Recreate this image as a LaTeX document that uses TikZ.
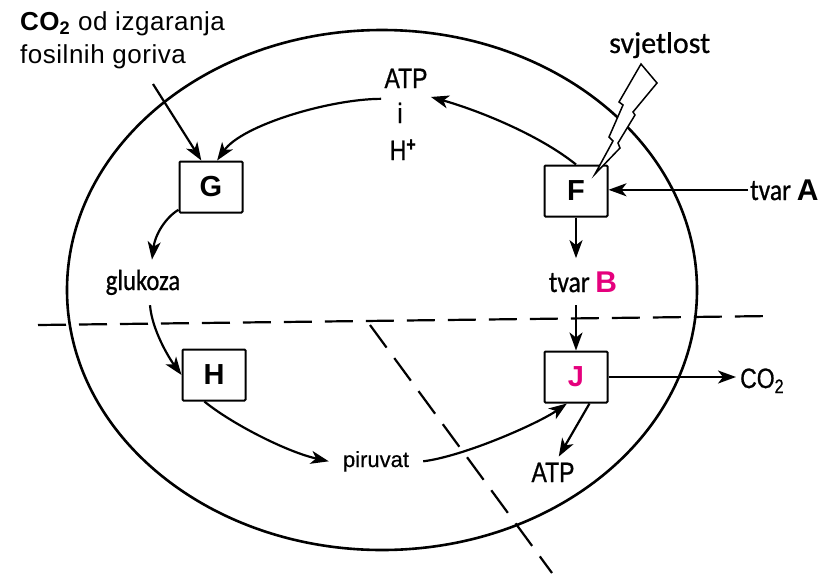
\documentclass[tikz,border=0pt]{standalone}
\usepackage{fontspec}
\setmainfont{Liberation Sans}
\newfontfamily\lblfont[LetterSpace=2]{Liberation Sans}
\newfontfamily\narfont[FakeStretch=0.82,FakeBold=0.8]{Liberation Sans}
\newfontfamily\calfont[FakeBold=0.6]{Carlito}
\newfontfamily\calnfont[FakeStretch=0.85,FakeBold=0.8]{Carlito}
\newfontfamily\pirfont[FakeBold=0.5]{Liberation Sans}
\usetikzlibrary{arrows.meta,fit,calc}
\definecolor{mag}{HTML}{E5007D}
\begin{document}
\begin{tikzpicture}[x=1pt,y=-1pt,
  box/.style={draw,line width=2pt,minimum width=63pt,minimum height=51pt,inner sep=0pt,rounded corners=1pt,font=\fontsize{29}{32}\selectfont\bfseries},
  arr/.style={line width=2.2pt,-{Stealth[length=18pt,width=13pt,inset=5pt]}},
  dashln/.style={line width=2.2pt,dash pattern=on 28pt off 13pt},
  lbl/.style={inner sep=0pt,font=\lblfont\fontsize{26}{30}\selectfont},
  nar/.style={font=\narfont\fontsize{28}{32}\selectfont},
  caln/.style={font=\calnfont\fontsize{30}{34}\selectfont}
]
\useasboundingbox (0,0) rectangle (832,587);
\draw[line width=2.6pt] (382,290) ellipse [x radius=315pt, y radius=260pt];
\draw[dashln] (38,325) -- (772,316);
\draw[dashln] (370,325) -- (552,573);

\node[box] (G) at (211,187) {G};
\node[box] (F) at (576,191) {F};
\node[box] (H) at (214,375) {H};
\node[box,text=mag] (J) at (576,377) {J};

\node[lbl,anchor=base west] (co2a) at (20,30) {\textbf{CO\textsubscript{2}} od izgaranja};
\node[lbl,anchor=base west] (co2b) at (20,63) {fosilnih goriva};
\coordinate (co2s) at (153,84);

\node[anchor=base west,inner sep=0pt,font=\calfont\fontsize{30}{34}\selectfont] (svj) at (609,53) {svjetlost};

\node[nar,anchor=base,inner sep=0pt] (atpA) at (406,88) {ATP};
\node[nar,anchor=base,inner sep=0pt] (atpI) at (400,123) {i};
\node[nar,anchor=base,inner sep=0pt] (atpH) at (403,160) {H\textsuperscript{\bfseries +}};
\node[fit=(atpA)(atpI)(atpH),inner sep=3pt] (atp) {};

\node[caln,anchor=base,inner xsep=2pt,inner ysep=10pt,font=\calnfont\fontsize{29}{34}\selectfont] (gluk) at (143,290) {glukoza};
\node[anchor=base,inner xsep=14pt,inner ysep=0pt,font=\pirfont\fontsize{22}{26}\selectfont] (piru) at (376,467) {piruvat};
\node[caln,anchor=base,inner xsep=0pt,inner ysep=13pt] (tvarB) at (583,292) {tvar {\normalfont\bfseries\color{mag}B}};
\node[caln,anchor=base west,inner sep=2pt] (tvarA) at (748,200) {tvar {\normalfont\bfseries A}};
\node[nar,anchor=base,inner sep=6pt] (atpB) at (553,482) {ATP};
\node[nar,anchor=base west,inner sep=4pt] (co2r) at (736,388) {CO\textsubscript{2}};

\draw[arr] (co2s) -- (G.110);
\draw[arr] (F.north) .. controls (538,134) and (477,110) .. (atp.35);
\draw[arr] (atp.148) .. controls (330,99) and (242,125) .. (G.77);
\draw[arr] (G.215) .. controls (165,218) and (155,235) .. ($(gluk.north)+(9,0)$);
\draw[arr] ($(gluk.south)+(7,0)$) .. controls (152,330) and (169,358) .. (H.west);
\draw[arr] (H.250) .. controls (232,424) and (287,452) .. (piru.west);
\draw[arr] (piru.east) .. controls (465,456) and (539,423) .. (J.251);
\draw[arr] (J.297) -- (atpB.70);
\draw[arr] (J.east) -- (J.east -| co2r.west);
\draw[arr] (F.south) -- (F.south |- tvarB.north);
\draw[arr] (tvarB.south -| J.north) -- (J.north);
\draw[arr] (tvarA.west) -- (tvarA.west -| F.east);

\draw[line width=1.5pt,fill=white,line join=miter] (641,64) -- (657,83) -- (633,112) -- (635,115) -- (618,143) -- (620,148) -- (595,174) -- (613,141) -- (609,137) -- (623,105) -- (619,102) -- cycle;
\end{tikzpicture}
\end{document}
